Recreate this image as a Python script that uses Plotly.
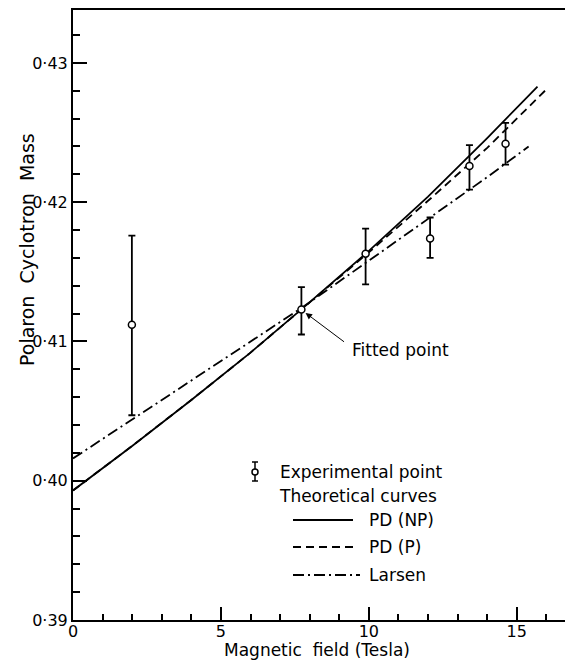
import plotly.graph_objects as go

# ---------------- data ----------------
exp_x = [1.99, 7.72, 9.89, 12.07, 13.40, 14.62]
exp_y = [0.4112, 0.4123, 0.4163, 0.4174, 0.4226, 0.4242]
exp_err_plus = [0.0064, 0.0016, 0.0018, 0.0015, 0.0015, 0.0015]
exp_err_minus = [0.0065, 0.0018, 0.0022, 0.0014, 0.0017, 0.0015]

pdnp_x = [0, 2, 4, 6, 7.72, 10, 12, 14, 15.7]
pdnp_y = [0.3993, 0.4025, 0.4058, 0.4092, 0.4123, 0.4165, 0.4204, 0.4246, 0.4283]

pdp_x = [0, 2, 4, 6, 7.72, 10, 12, 14, 16.0]
pdp_y = [0.3993, 0.4025, 0.4058, 0.4092, 0.4123, 0.4164, 0.4201, 0.4239, 0.4281]

larsen_x = [0, 2, 4, 6, 7.72, 10, 12, 14, 15.4]
larsen_y = [0.4016, 0.4044, 0.4072, 0.4100, 0.4124, 0.4158, 0.4188, 0.4218, 0.4240]

y_ticks = [0.39, 0.40, 0.41, 0.42, 0.43]
y_ticktext = ["0·39", "0·40", "0·41", "0·42", "0·43"]
x_ticks = [0, 5, 10, 15]
x_ticktext = ["0", "5", "10", "15"]

FONT = "DejaVu Sans"
# page has an 8px body margin; compensate so the plot lands where the reference has it
OFF = 8
W, H = 573 - OFF, 664 - OFF
ML, MR, MT, MB = 73 - OFF, 0, 10 - OFF, 44
PW, PH = W - ML - MR, H - MT - MB


def px2paper(px, py):
    # px, py are page pixel coordinates
    return (px - OFF - ML) / PW, (H - MB - (py - OFF)) / PH


fig = go.Figure()

fig.add_trace(go.Scatter(x=pdnp_x, y=pdnp_y, mode="lines",
                         line=dict(color="black", width=1.8), showlegend=False))
fig.add_trace(go.Scatter(x=pdp_x, y=pdp_y, mode="lines",
                         line=dict(color="black", width=1.8, dash="8px,5px"), showlegend=False))
fig.add_trace(go.Scatter(x=larsen_x, y=larsen_y, mode="lines",
                         line=dict(color="black", width=1.8, dash="11px,4px,2px,4px"), showlegend=False))
fig.add_trace(go.Scatter(
    x=exp_x, y=exp_y, mode="markers",
    marker=dict(symbol="circle", size=7, color="white", line=dict(color="black", width=1.5)),
    error_y=dict(type="data", symmetric=False, array=exp_err_plus, arrayminus=exp_err_minus,
                 color="black", thickness=1.8, width=3.5),
    showlegend=False))

# ---------------- annotations ----------------
ann = []
ann.append(dict(x=7.86, y=0.41205, xref="x", yref="y", text="", showarrow=True,
                ax=40, ay=30, arrowhead=2, arrowsize=1.3, arrowwidth=1, arrowcolor="black"))
fx, fy = px2paper(350, 350)
ann.append(dict(x=fx, y=fy, xref="paper", yref="paper", text="Fitted point", showarrow=False,
                xanchor="left", yanchor="middle", font=dict(family=FONT, size=17, color="black")))

tx, ty = px2paper(317, 650)
ann.append(dict(x=tx, y=ty, xref="paper", yref="paper", text="Magnetic  field (Tesla)",
                showarrow=False, xanchor="center", yanchor="middle",
                font=dict(family=FONT, size=17, color="black")))
yx, yy = px2paper(27, 250)
ann.append(dict(x=yx, y=yy, xref="paper", yref="paper", text="Polaron  Cyclotron  Mass",
                showarrow=False, xanchor="center", yanchor="middle", textangle=-90,
                font=dict(family=FONT, size=19, color="black")))

legend_texts = [("Experimental point", 278, 472), ("Theoretical curves", 277, 496),
                ("PD (NP)", 367, 520), ("PD (P)", 367, 547), ("Larsen", 367, 575)]
for t, lx, ly in legend_texts:
    px_, py_ = px2paper(lx, ly)
    ann.append(dict(x=px_, y=py_, xref="paper", yref="paper", text=t, showarrow=False,
                    xanchor="left", yanchor="middle", font=dict(family=FONT, size=17, color="black")))

# ---------------- legend shapes ----------------
shapes = []
for dash, ly, x1 in [("solid", 520, 353), ("8px,5px", 547, 353), ("11px,4px,2px,4px", 575, 360)]:
    a0, b0 = px2paper(293, ly)
    a1, b1 = px2paper(x1, ly)
    shapes.append(dict(type="line", xref="paper", yref="paper", x0=a0, y0=b0, x1=a1, y1=b1,
                       line=dict(color="black", width=1.8, dash=dash)))
sx, st = px2paper(255, 462)
_, sb = px2paper(255, 481)
shapes.append(dict(type="line", xref="paper", yref="paper", x0=sx, y0=st, x1=sx, y1=sb,
                   line=dict(color="black", width=1.5)))
for yy_ in (462, 481):
    c0, cy = px2paper(252, yy_)
    c1, _ = px2paper(258, yy_)
    shapes.append(dict(type="line", xref="paper", yref="paper", x0=c0, y0=cy, x1=c1, y1=cy,
                       line=dict(color="black", width=1.5)))
e0, f0 = px2paper(252, 475)
e1, f1 = px2paper(258, 469)
shapes.append(dict(type="circle", xref="paper", yref="paper", x0=e0, y0=f0, x1=e1, y1=f1,
                   fillcolor="white", line=dict(color="black", width=1.5)))

fig.update_layout(
    width=W, height=H,
    margin=dict(l=ML, r=MR, t=MT, b=MB),
    plot_bgcolor="white", paper_bgcolor="white",
    showlegend=False,
    annotations=ann, shapes=shapes,
    font=dict(family=FONT, size=16, color="black"),
)
fig.update_xaxes(
    range=[0, 16.9], showgrid=False, zeroline=False,
    showline=True, linecolor="black", linewidth=2, mirror=True,
    tickmode="array", tickvals=x_ticks, ticktext=x_ticktext,
    ticks="inside", ticklen=13, tickwidth=1.5, tickcolor="black",
    ticklabelstandoff=-4,
    minor=dict(dtick=1, ticks="inside", ticklen=6, tickwidth=1.5, tickcolor="black", showgrid=False),
    tickfont=dict(family=FONT, size=16, color="black"),
)
fig.update_yaxes(
    range=[0.39, 0.4338], showgrid=False, zeroline=False,
    showline=True, linecolor="black", linewidth=2, mirror=False,
    tickmode="array", tickvals=y_ticks, ticktext=y_ticktext,
    ticks="inside", ticklen=14, tickwidth=1.5, tickcolor="black",
    minor=dict(dtick=0.002, tick0=0.39, ticks="inside", ticklen=7, tickwidth=1.5, tickcolor="black", showgrid=False),
    tickfont=dict(family=FONT, size=16, color="black"),
)

fig.write_html("out.html")
